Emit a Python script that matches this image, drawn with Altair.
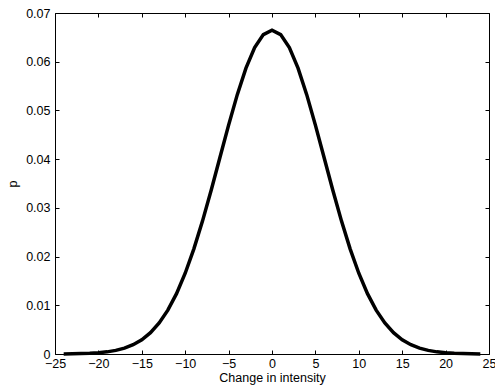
import altair as alt
import pandas as pd

# Data
x_vals = list(range(-24, 25))
p_half = [0.06649, 0.06557, 0.06290, 0.05868, 0.05324, 0.04698, 0.04033,
          0.03367, 0.02733, 0.02159, 0.01658, 0.01239, 0.00900, 0.00636,
          0.00437, 0.00292, 0.00190, 0.00120, 0.00074, 0.00044, 0.00026,
          0.00015, 0.00008, 0.00004, 0.00002]
p_vals = p_half[:0:-1] + p_half  # x = -24 ... 24
x_ticks = [-25, -20, -15, -10, -5, 0, 5, 10, 15, 20, 25]
y_ticks = [0, 0.01, 0.02, 0.03, 0.04, 0.05, 0.06, 0.07]

df = pd.DataFrame({"x": x_vals, "p": p_vals})

W, H = 434, 341
FONT = "Liberation Sans"
xs = alt.Scale(domain=[-25, 25], nice=False, zero=False)
ys = alt.Scale(domain=[0, 0.07], nice=False)

base = alt.Chart(df)

main = base.mark_line(color="black", strokeWidth=3.5).encode(
    x=alt.X("x:Q", scale=xs, axis=alt.Axis(
        orient="bottom", values=x_ticks, format="d", ticks=False, domain=True,
        domainColor="black", domainWidth=1, labelPadding=3, labelFontSize=12.5,
        labelColor="black", title="Change in intensity", titleFontSize=12.5,
        titleFontWeight="normal", titleColor="black", titlePadding=2,
        labelFlush=False)),
    y=alt.Y("p:Q", scale=ys, axis=alt.Axis(
        orient="left", values=y_ticks, format="~g", ticks=False, domain=True,
        domainColor="black", domainWidth=1, labelPadding=5, labelFontSize=12.5,
        labelColor="black", title="p", titleFontSize=12.5,
        titleFontWeight="normal", titleColor="black", titlePadding=6,
        labelFlush=False)),
)

ticks_in1 = base.mark_line(opacity=0).encode(
    x=alt.X("x:Q", scale=xs, axis=alt.Axis(
        orient="top", offset=-H, values=x_ticks, labels=False, domain=False,
        ticks=True, tickSize=4, tickColor="black", tickWidth=1, title=None)),
    y=alt.Y("p:Q", scale=ys, axis=alt.Axis(
        orient="right", offset=-W, values=y_ticks, labels=False, domain=False,
        ticks=True, tickSize=4, tickColor="black", tickWidth=1, title=None)),
)

ticks_in2 = base.mark_line(opacity=0).encode(
    x=alt.X("x:Q", scale=xs, axis=alt.Axis(
        orient="bottom", offset=-H, values=x_ticks, labels=False, domain=True,
        domainColor="black", domainWidth=1,
        ticks=True, tickSize=4, tickColor="black", tickWidth=1, title=None)),
    y=alt.Y("p:Q", scale=ys, axis=alt.Axis(
        orient="left", offset=-W, values=y_ticks, labels=False, domain=True,
        domainColor="black", domainWidth=1,
        ticks=True, tickSize=4, tickColor="black", tickWidth=1, title=None)),
)

chart = alt.layer(main, ticks_in1, ticks_in2).resolve_axis(
    x="independent", y="independent"
).properties(
    width=W, height=H,
    autosize=alt.AutoSizeParams(type="none"),
    padding={"left": 55, "top": 13, "right": 6, "bottom": 36},
    background="white",
).configure_view(stroke=None).configure_axis(
    grid=False, labelFont=FONT, titleFont=FONT
)

chart.save("out.html", embed_options={"renderer": "svg", "actions": False})
